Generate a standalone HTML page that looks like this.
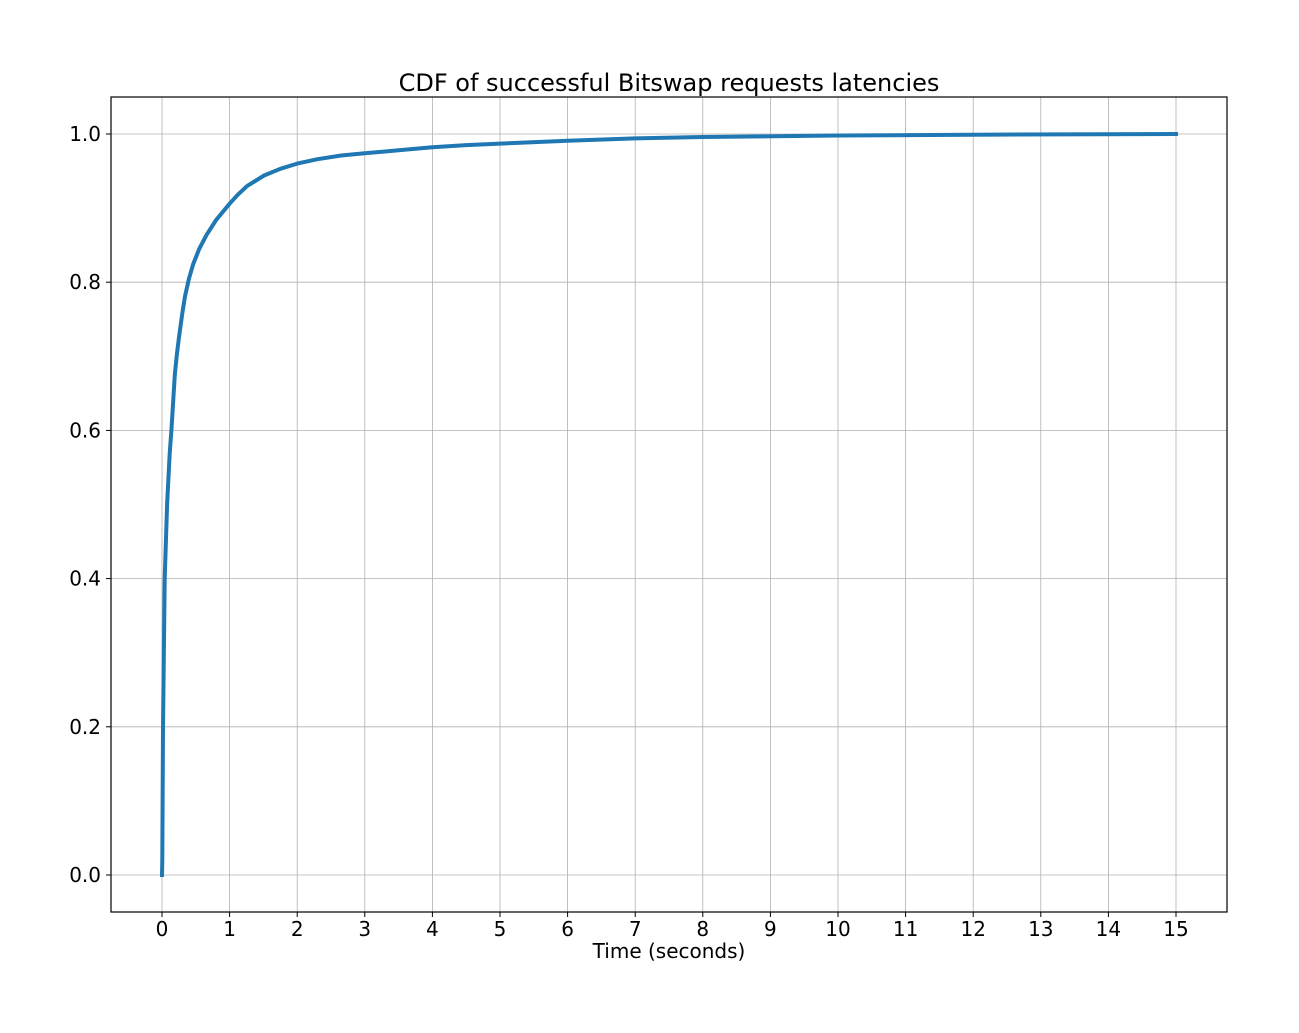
<!DOCTYPE html>
<html><head><meta charset="utf-8"><style>
body{margin:0;background:#fff}
svg{display:block;font-family:"DejaVu Sans","Liberation Sans",sans-serif}
</style></head><body>
<svg id="chart" width="1299" height="1033">
<text x="669" y="91" text-anchor="middle" font-size="24">CDF of successful Bitswap requests latencies</text>
<g id="grid"></g>
<g id="ticks"></g>
<path id="line" fill="none" stroke="#1f77b4" stroke-width="4" stroke-linejoin="round" stroke-linecap="square"></path>
<rect x="111" y="97" width="1116" height="815" fill="none" stroke="#000" stroke-width="1.2"></rect>
<text x="669" y="958" text-anchor="middle" font-size="20">Time (seconds)</text>
</svg>
<script>
const xs = [0,0.005,0.015,0.04,0.075,0.114,0.14,0.19,0.22,0.254,0.30,0.34,0.40,0.46,0.55,0.66,0.8,1.0,1.12,1.26,1.51,1.75,2.0,2.3,2.65,3.0,3.5,4,4.5,5,6,7,8,10,12,15];
const ys = [0,0.02,0.198,0.40,0.50,0.569,0.602,0.675,0.703,0.728,0.758,0.781,0.805,0.824,0.845,0.864,0.884,0.906,0.918,0.930,0.944,0.953,0.960,0.966,0.971,0.974,0.978,0.982,0.985,0.987,0.991,0.994,0.996,0.998,0.999,1.0];
const xTicks = [0,1,2,3,4,5,6,7,8,9,10,11,12,13,14,15];
const yTicks = [0,0.2,0.4,0.6,0.8,1.0];
const sx = v => 162 + v*(1176-162)/15;
const sy = v => 875 - v*(875-134);
const NS='http://www.w3.org/2000/svg';
const grid=document.getElementById('grid'), ticks=document.getElementById('ticks');
function mk(tag,attrs,parent){const e=document.createElementNS(NS,tag);for(const k in attrs)e.setAttribute(k,attrs[k]);parent.appendChild(e);return e;}
xTicks.forEach(t=>{
  const x=sx(t);
  const g=mk('line',{x1:x,x2:x,y1:97,y2:912,stroke:'#b0b0b0','stroke-width':0.8},grid);
  
  
  const tk=mk('line',{x1:x,x2:x,y1:912,y2:917,stroke:'#000','stroke-width':1},ticks);
  
  
  const tx=mk('text',{x:x,y:936,'text-anchor':'middle','font-size':20},ticks);
  tx.textContent=t;
  
  
});
yTicks.forEach(t=>{
  const y=sy(t);
  const g=mk('line',{x1:111,x2:1227,y1:y,y2:y,stroke:'#b0b0b0','stroke-width':0.8},grid);
  
  
  const tk=mk('line',{x1:106,x2:111,y1:y,y2:y,stroke:'#000','stroke-width':1},ticks);
  
  
  const tx=mk('text',{x:101,y:y+7,'text-anchor':'end','font-size':20},ticks);
  tx.textContent=t.toFixed(1);
  
  
});
document.getElementById('line').setAttribute('d',xs.map((v,i)=>(i?'L':'M')+sx(v).toFixed(1)+','+sy(ys[i]).toFixed(1)).join(''));
</script>
</body></html>
